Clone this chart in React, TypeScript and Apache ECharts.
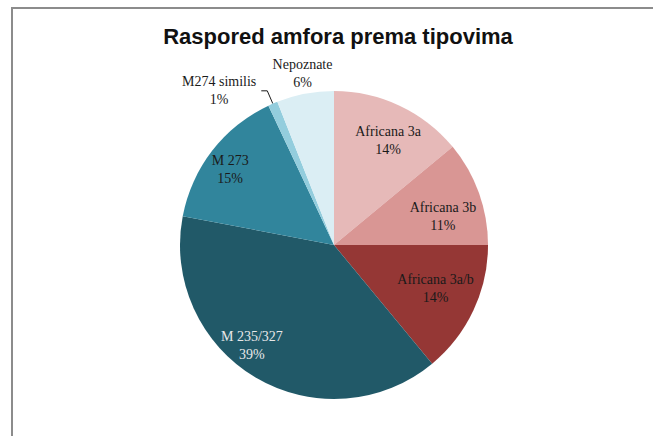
import React, { useEffect, useRef } from "react";
import * as echarts from "echarts";

const categories = [
  "Africana 3a",
  "Africana 3b",
  "Africana 3a/b",
  "M 235/327",
  "M 273",
  "M274 similis",
  "Nepoznate",
];
const percentages = [14, 11, 14, 39, 15, 1, 6];
const sliceColors = ["#E6B9B8", "#D99694", "#953735", "#215968", "#31859C", "#93CDDD", "#DBEEF4"];
const labelColors = ["#1a1a1a", "#1a1a1a", "#1a1a1a", "#e8e8e8", "#1a1a1a", "#1a1a1a", "#1a1a1a"];
// label nudges (px) to mimic the reference's best-fit placement
const labelNudges: [number, number][] = [
  [3, 4],
  [-4, 12],
  [-7, -8],
  [-21, -3],
  [-9, -2],
  [0, 0],
  [-9, -54],
];
const outsideIndex = 5;

const CENTER: [number, number] = [334, 245];
const R = 154;
const FONT = "'Liberation Serif', 'Times New Roman', serif";

export default function App() {
  const ref = useRef<HTMLDivElement>(null);
  useEffect(() => {
    if (!ref.current) return;
    const chart = echarts.init(ref.current, undefined, { renderer: "svg" });
    const mainData = categories.map((name, i) => ({
      name,
      value: percentages[i],
      itemStyle: { color: sliceColors[i] },
      label:
        i === outsideIndex
          ? {
              show: true,
              position: "outside",
              formatter: (p: any) => `{a|${p.name}}\n{a|${p.value}%}`,
              rich: {
                a: { align: "center", fontFamily: FONT, fontSize: 14, lineHeight: 18, color: "#1a1a1a" },
              },
            }
          : { show: false },
      labelLine: i === outsideIndex ? { show: true } : { show: false },
    }));
    const overlayData = categories.map((name, i) => ({
      name,
      value: percentages[i],
      label: { show: i !== outsideIndex, color: labelColors[i] },
    }));
    chart.setOption({
      animation: false,
      backgroundColor: "#ffffff",
      title: {
        text: "Raspored amfora prema tipovima",
        left: 333,
        textAlign: "center",
        top: 20,
        textStyle: {
          fontFamily: "'Liberation Sans', Arial, sans-serif",
          fontWeight: "bold",
          fontSize: 22,
          color: "#111111",
        },
      },
      graphic: [
        {
          type: "rect",
          shape: { x: 12, y: 8, width: 700, height: 500 },
          style: { fill: "none", stroke: "#8c8c8c", lineWidth: 2 },
          silent: true,
        },
      ],
      series: [
        {
          type: "pie",
          center: CENTER,
          radius: [0, R],
          startAngle: 90,
          clockwise: true,
          avoidLabelOverlap: false,
          silent: true,
          emphasis: { disabled: true },
          itemStyle: { borderWidth: 0 },
          label: { show: false },
          labelLine: {
            show: false,
            length: 14,
            length2: 6,
            lineStyle: { color: "#1a1a1a", width: 1 },
          },
          data: mainData,
        },
        {
          type: "pie",
          center: CENTER,
          radius: [80, R],
          startAngle: 90,
          clockwise: true,
          avoidLabelOverlap: false,
          silent: true,
          emphasis: { disabled: true },
          itemStyle: { color: "rgba(0,0,0,0)", borderWidth: 0 },
          label: {
            show: true,
            position: "inside",
            formatter: (p: any) => `${p.name}\n${p.value}%`,
            fontFamily: FONT,
            fontSize: 14,
            lineHeight: 18,
          },
          labelLine: { show: false },
          labelLayout: (params: any) => {
            const n = labelNudges[params.dataIndex] || [0, 0];
            return { dx: n[0], dy: n[1] };
          },
          data: overlayData,
        },
      ],
    });
    return () => chart.dispose();
  }, []);
  return (
    <div
      ref={ref}
      style={{ position: "fixed", left: 0, top: 0, width: 653, height: 436 }}
    />
  );
}
